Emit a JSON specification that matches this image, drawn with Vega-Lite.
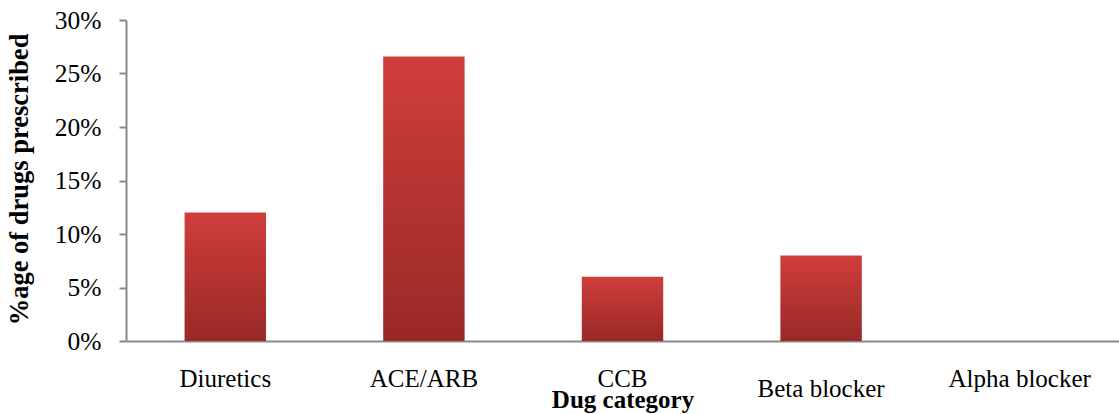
{
  "$schema": "https://vega.github.io/schema/vega-lite/v6.json",
  "width": 993,
  "height": 321,
  "autosize": {"type": "none"},
  "padding": {"left": 126, "top": 20, "right": 0, "bottom": 73},
  "background": "white",
  "config": {
    "view": {"stroke": null},
    "font": "Liberation Serif",
    "axis": {
      "labelFont": "Liberation Serif",
      "titleFont": "Liberation Serif",
      "labelColor": "#000000",
      "titleColor": "#000000",
      "domainColor": "#898989",
      "domainWidth": 2,
      "tickColor": "#898989",
      "tickWidth": 2,
      "grid": false
    }
  },
  "data": {
    "values": [
      {"category": "Diuretics", "share": 0.12},
      {"category": "ACE/ARB", "share": 0.266},
      {"category": "CCB", "share": 0.06},
      {"category": "Beta blocker", "share": 0.08},
      {"category": "Alpha blocker", "share": 0.0}
    ]
  },
  "mark": {
    "type": "bar",
    "color": {
      "gradient": "linear",
      "x1": 0, "y1": 0, "x2": 0, "y2": 1,
      "stops": [
        {"offset": 0, "color": "#d03e3b"},
        {"offset": 1, "color": "#982926"}
      ]
    }
  },
  "encoding": {
    "x": {
      "field": "category",
      "type": "nominal",
      "sort": null,
      "scale": {"paddingInner": 0.59, "paddingOuter": 0.295},
      "axis": {
        "title": "Dug category",
        "titleFontWeight": "bold",
        "titleFontSize": 25,
        "titleBaseline": "alphabetic",
        "titleY": 66,
        "labelAngle": 0,
        "labelFontSize": 25,
        "labelBaseline": "alphabetic",
        "labelPadding": {"condition": {"test": "datum.value === 'Beta blocker'", "value": 55}, "value": 45},
        "ticks": false
      }
    },
    "y": {
      "field": "share",
      "type": "quantitative",
      "scale": {"domain": [0, 0.3], "nice": false},
      "axis": {
        "title": "%age of drugs prescribed",
        "titleFontWeight": "bold",
        "titleFontSize": 26.5,
        "titleAngle": -90,
        "titleBaseline": "alphabetic",
        "titleX": -99,
        "titleY": 159,
        "titleAlign": "center",
        "values": [0, 0.05, 0.1, 0.15, 0.2, 0.25, 0.3],
        "format": ".0%",
        "labelFontSize": 25.5,
        "tickSize": 7,
        "labelPadding": 18
      }
    }
  }
}
